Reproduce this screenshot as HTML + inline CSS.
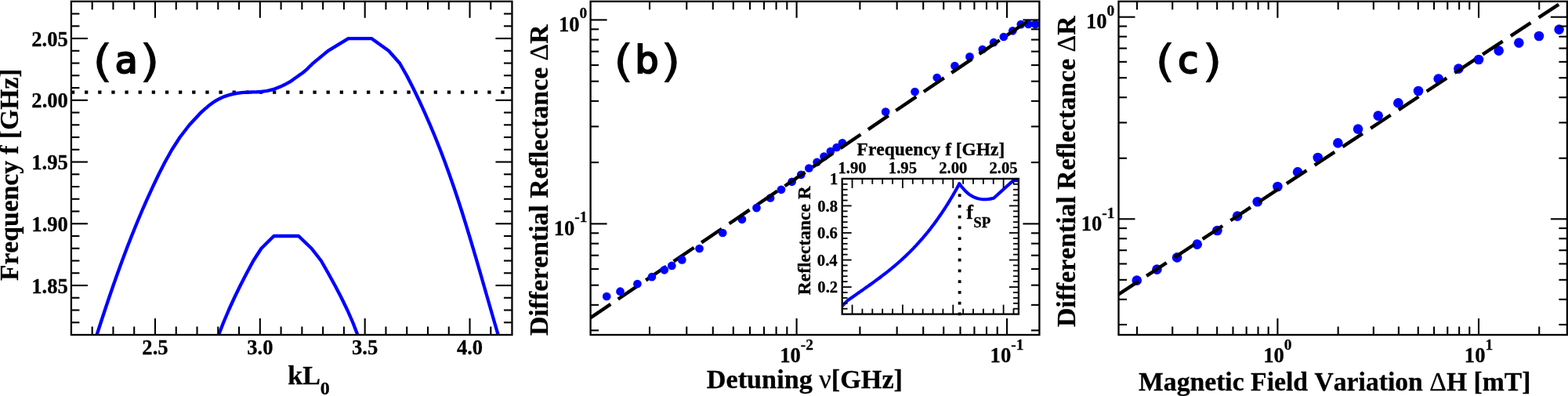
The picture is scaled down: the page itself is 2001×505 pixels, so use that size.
<!DOCTYPE html>
<html lang="en"><head><meta charset="utf-8"><title>Figure</title>
<style>
html,body{margin:0;padding:0;background:#fff;}
body{width:2001px;height:505px;overflow:hidden;}
svg{display:block;}
text{font-kerning:none;}
</style></head><body>
<svg width="2001" height="505" viewBox="0 0 2001 505">
<rect width="2001" height="505" fill="#fff"/>
<g id="panelA">
<clipPath id="clipA"><rect x="90.9" y="1.8" width="562.55" height="425.20"/></clipPath>
<line x1="90.90" y1="117.60" x2="653.45" y2="117.60" stroke="#000" stroke-width="4.3" stroke-dasharray="4.3 12.84"/>
<polyline points="118.59,442.75 123.60,427.00 128.68,411.25 133.86,395.50 139.14,379.76 144.56,364.01 150.13,348.26 155.87,332.51 161.80,316.76 167.94,301.02 174.31,285.27 180.92,269.52 187.80,253.77 194.99,238.02 202.57,222.28 210.63,206.53 219.44,190.78 229.61,175.03 241.74,159.28 256.41,143.54 257.93,142.16 259.45,140.80 260.98,139.44 262.52,138.09 264.07,136.76 265.64,135.46 267.23,134.18 268.84,132.94 270.48,131.73 272.15,130.57 273.85,129.45 275.59,128.38 277.36,127.36 279.15,126.39 280.98,125.48 282.84,124.62 284.71,123.82 286.62,123.08 288.54,122.39 290.48,121.75 292.44,121.17 294.41,120.63 296.39,120.14 298.39,119.70 300.39,119.30 302.40,118.95 304.42,118.64 306.44,118.37 308.47,118.14 310.50,117.96 312.53,117.81 314.57,117.69 316.60,117.60 318.64,117.53 320.68,117.49 322.72,117.45 324.76,117.40 326.80,117.35 328.83,117.26 330.87,117.14 332.90,116.97 334.93,116.76 336.95,116.49 338.97,116.18 340.98,115.82 342.98,115.41 344.97,114.94 346.94,114.42 348.90,113.85 350.84,113.22 352.75,112.53 354.66,111.80 356.54,111.02 358.42,110.21 360.28,109.37 362.13,108.51 363.97,107.62 365.79,106.70 367.59,105.73 369.35,104.70 371.07,103.62 372.75,102.48 374.42,101.30 376.07,100.10 377.71,98.89 379.37,97.69 381.04,96.51 382.72,95.34 384.39,94.17 386.04,92.98 387.67,91.75 389.25,90.47 390.78,89.13 392.26,87.73 393.71,86.29 395.15,84.85 396.60,83.41 398.05,81.97 399.50,80.54 418.60,64.80 444.50,49.05 474.00,49.05 496.00,64.80 510.00,80.54 519.01,96.29 527.07,112.04 534.71,127.79 541.98,143.54 548.88,159.28 555.46,175.03 561.72,190.78 567.71,206.53 573.43,222.28 578.93,238.02 584.22,253.77 589.33,269.52 594.27,285.27 599.09,301.02 603.79,316.76 608.41,332.51 612.97,348.26 617.49,364.01 622.01,379.76 626.53,395.50 631.09,411.25 635.71,427.00 640.42,442.75" fill="none" stroke="#0000ff" stroke-width="4.3" stroke-linejoin="round" clip-path="url(#clipA)"/>
<polyline points="273.53,442.75 279.06,427.00 285.18,411.25 291.86,395.50 299.05,379.76 306.72,364.01 314.84,348.26 323.35,332.51 333.50,316.76 349.50,301.02 381.00,301.02 397.50,316.76 409.79,332.51 418.78,348.26 427.45,364.01 435.67,379.76 443.32,395.50 450.26,411.25 456.38,427.00 461.54,442.75" fill="none" stroke="#0000ff" stroke-width="4.3" stroke-linejoin="round" clip-path="url(#clipA)"/>
<line x1="197.98" y1="427.00" x2="197.98" y2="406.00" stroke="#000" stroke-width="2.1" />
<line x1="197.98" y1="1.80" x2="197.98" y2="22.80" stroke="#000" stroke-width="2.1" />
<line x1="331.83" y1="427.00" x2="331.83" y2="406.00" stroke="#000" stroke-width="2.1" />
<line x1="331.83" y1="1.80" x2="331.83" y2="22.80" stroke="#000" stroke-width="2.1" />
<line x1="465.68" y1="427.00" x2="465.68" y2="406.00" stroke="#000" stroke-width="2.1" />
<line x1="465.68" y1="1.80" x2="465.68" y2="22.80" stroke="#000" stroke-width="2.1" />
<line x1="599.53" y1="427.00" x2="599.53" y2="406.00" stroke="#000" stroke-width="2.1" />
<line x1="599.53" y1="1.80" x2="599.53" y2="22.80" stroke="#000" stroke-width="2.1" />
<line x1="117.67" y1="427.00" x2="117.67" y2="416.50" stroke="#000" stroke-width="2.1" />
<line x1="117.67" y1="1.80" x2="117.67" y2="12.30" stroke="#000" stroke-width="2.1" />
<line x1="144.44" y1="427.00" x2="144.44" y2="416.50" stroke="#000" stroke-width="2.1" />
<line x1="144.44" y1="1.80" x2="144.44" y2="12.30" stroke="#000" stroke-width="2.1" />
<line x1="171.21" y1="427.00" x2="171.21" y2="416.50" stroke="#000" stroke-width="2.1" />
<line x1="171.21" y1="1.80" x2="171.21" y2="12.30" stroke="#000" stroke-width="2.1" />
<line x1="224.75" y1="427.00" x2="224.75" y2="416.50" stroke="#000" stroke-width="2.1" />
<line x1="224.75" y1="1.80" x2="224.75" y2="12.30" stroke="#000" stroke-width="2.1" />
<line x1="251.52" y1="427.00" x2="251.52" y2="416.50" stroke="#000" stroke-width="2.1" />
<line x1="251.52" y1="1.80" x2="251.52" y2="12.30" stroke="#000" stroke-width="2.1" />
<line x1="278.29" y1="427.00" x2="278.29" y2="416.50" stroke="#000" stroke-width="2.1" />
<line x1="278.29" y1="1.80" x2="278.29" y2="12.30" stroke="#000" stroke-width="2.1" />
<line x1="305.06" y1="427.00" x2="305.06" y2="416.50" stroke="#000" stroke-width="2.1" />
<line x1="305.06" y1="1.80" x2="305.06" y2="12.30" stroke="#000" stroke-width="2.1" />
<line x1="358.60" y1="427.00" x2="358.60" y2="416.50" stroke="#000" stroke-width="2.1" />
<line x1="358.60" y1="1.80" x2="358.60" y2="12.30" stroke="#000" stroke-width="2.1" />
<line x1="385.37" y1="427.00" x2="385.37" y2="416.50" stroke="#000" stroke-width="2.1" />
<line x1="385.37" y1="1.80" x2="385.37" y2="12.30" stroke="#000" stroke-width="2.1" />
<line x1="412.14" y1="427.00" x2="412.14" y2="416.50" stroke="#000" stroke-width="2.1" />
<line x1="412.14" y1="1.80" x2="412.14" y2="12.30" stroke="#000" stroke-width="2.1" />
<line x1="438.91" y1="427.00" x2="438.91" y2="416.50" stroke="#000" stroke-width="2.1" />
<line x1="438.91" y1="1.80" x2="438.91" y2="12.30" stroke="#000" stroke-width="2.1" />
<line x1="492.45" y1="427.00" x2="492.45" y2="416.50" stroke="#000" stroke-width="2.1" />
<line x1="492.45" y1="1.80" x2="492.45" y2="12.30" stroke="#000" stroke-width="2.1" />
<line x1="519.22" y1="427.00" x2="519.22" y2="416.50" stroke="#000" stroke-width="2.1" />
<line x1="519.22" y1="1.80" x2="519.22" y2="12.30" stroke="#000" stroke-width="2.1" />
<line x1="545.99" y1="427.00" x2="545.99" y2="416.50" stroke="#000" stroke-width="2.1" />
<line x1="545.99" y1="1.80" x2="545.99" y2="12.30" stroke="#000" stroke-width="2.1" />
<line x1="572.76" y1="427.00" x2="572.76" y2="416.50" stroke="#000" stroke-width="2.1" />
<line x1="572.76" y1="1.80" x2="572.76" y2="12.30" stroke="#000" stroke-width="2.1" />
<line x1="626.30" y1="427.00" x2="626.30" y2="416.50" stroke="#000" stroke-width="2.1" />
<line x1="626.30" y1="1.80" x2="626.30" y2="12.30" stroke="#000" stroke-width="2.1" />
<line x1="90.90" y1="364.01" x2="111.90" y2="364.01" stroke="#000" stroke-width="2.1" />
<line x1="653.45" y1="364.01" x2="632.45" y2="364.01" stroke="#000" stroke-width="2.1" />
<line x1="90.90" y1="285.27" x2="111.90" y2="285.27" stroke="#000" stroke-width="2.1" />
<line x1="653.45" y1="285.27" x2="632.45" y2="285.27" stroke="#000" stroke-width="2.1" />
<line x1="90.90" y1="206.53" x2="111.90" y2="206.53" stroke="#000" stroke-width="2.1" />
<line x1="653.45" y1="206.53" x2="632.45" y2="206.53" stroke="#000" stroke-width="2.1" />
<line x1="90.90" y1="127.79" x2="111.90" y2="127.79" stroke="#000" stroke-width="2.1" />
<line x1="653.45" y1="127.79" x2="632.45" y2="127.79" stroke="#000" stroke-width="2.1" />
<line x1="90.90" y1="49.05" x2="111.90" y2="49.05" stroke="#000" stroke-width="2.1" />
<line x1="653.45" y1="49.05" x2="632.45" y2="49.05" stroke="#000" stroke-width="2.1" />
<line x1="90.90" y1="411.25" x2="101.40" y2="411.25" stroke="#000" stroke-width="2.1" />
<line x1="653.45" y1="411.25" x2="642.95" y2="411.25" stroke="#000" stroke-width="2.1" />
<line x1="90.90" y1="395.50" x2="101.40" y2="395.50" stroke="#000" stroke-width="2.1" />
<line x1="653.45" y1="395.50" x2="642.95" y2="395.50" stroke="#000" stroke-width="2.1" />
<line x1="90.90" y1="379.76" x2="101.40" y2="379.76" stroke="#000" stroke-width="2.1" />
<line x1="653.45" y1="379.76" x2="642.95" y2="379.76" stroke="#000" stroke-width="2.1" />
<line x1="90.90" y1="348.26" x2="101.40" y2="348.26" stroke="#000" stroke-width="2.1" />
<line x1="653.45" y1="348.26" x2="642.95" y2="348.26" stroke="#000" stroke-width="2.1" />
<line x1="90.90" y1="332.51" x2="101.40" y2="332.51" stroke="#000" stroke-width="2.1" />
<line x1="653.45" y1="332.51" x2="642.95" y2="332.51" stroke="#000" stroke-width="2.1" />
<line x1="90.90" y1="316.76" x2="101.40" y2="316.76" stroke="#000" stroke-width="2.1" />
<line x1="653.45" y1="316.76" x2="642.95" y2="316.76" stroke="#000" stroke-width="2.1" />
<line x1="90.90" y1="301.02" x2="101.40" y2="301.02" stroke="#000" stroke-width="2.1" />
<line x1="653.45" y1="301.02" x2="642.95" y2="301.02" stroke="#000" stroke-width="2.1" />
<line x1="90.90" y1="269.52" x2="101.40" y2="269.52" stroke="#000" stroke-width="2.1" />
<line x1="653.45" y1="269.52" x2="642.95" y2="269.52" stroke="#000" stroke-width="2.1" />
<line x1="90.90" y1="253.77" x2="101.40" y2="253.77" stroke="#000" stroke-width="2.1" />
<line x1="653.45" y1="253.77" x2="642.95" y2="253.77" stroke="#000" stroke-width="2.1" />
<line x1="90.90" y1="238.02" x2="101.40" y2="238.02" stroke="#000" stroke-width="2.1" />
<line x1="653.45" y1="238.02" x2="642.95" y2="238.02" stroke="#000" stroke-width="2.1" />
<line x1="90.90" y1="222.28" x2="101.40" y2="222.28" stroke="#000" stroke-width="2.1" />
<line x1="653.45" y1="222.28" x2="642.95" y2="222.28" stroke="#000" stroke-width="2.1" />
<line x1="90.90" y1="190.78" x2="101.40" y2="190.78" stroke="#000" stroke-width="2.1" />
<line x1="653.45" y1="190.78" x2="642.95" y2="190.78" stroke="#000" stroke-width="2.1" />
<line x1="90.90" y1="175.03" x2="101.40" y2="175.03" stroke="#000" stroke-width="2.1" />
<line x1="653.45" y1="175.03" x2="642.95" y2="175.03" stroke="#000" stroke-width="2.1" />
<line x1="90.90" y1="159.28" x2="101.40" y2="159.28" stroke="#000" stroke-width="2.1" />
<line x1="653.45" y1="159.28" x2="642.95" y2="159.28" stroke="#000" stroke-width="2.1" />
<line x1="90.90" y1="143.54" x2="101.40" y2="143.54" stroke="#000" stroke-width="2.1" />
<line x1="653.45" y1="143.54" x2="642.95" y2="143.54" stroke="#000" stroke-width="2.1" />
<line x1="90.90" y1="112.04" x2="101.40" y2="112.04" stroke="#000" stroke-width="2.1" />
<line x1="653.45" y1="112.04" x2="642.95" y2="112.04" stroke="#000" stroke-width="2.1" />
<line x1="90.90" y1="96.29" x2="101.40" y2="96.29" stroke="#000" stroke-width="2.1" />
<line x1="653.45" y1="96.29" x2="642.95" y2="96.29" stroke="#000" stroke-width="2.1" />
<line x1="90.90" y1="80.54" x2="101.40" y2="80.54" stroke="#000" stroke-width="2.1" />
<line x1="653.45" y1="80.54" x2="642.95" y2="80.54" stroke="#000" stroke-width="2.1" />
<line x1="90.90" y1="64.80" x2="101.40" y2="64.80" stroke="#000" stroke-width="2.1" />
<line x1="653.45" y1="64.80" x2="642.95" y2="64.80" stroke="#000" stroke-width="2.1" />
<line x1="90.90" y1="33.30" x2="101.40" y2="33.30" stroke="#000" stroke-width="2.1" />
<line x1="653.45" y1="33.30" x2="642.95" y2="33.30" stroke="#000" stroke-width="2.1" />
<line x1="90.90" y1="17.55" x2="101.40" y2="17.55" stroke="#000" stroke-width="2.1" />
<line x1="653.45" y1="17.55" x2="642.95" y2="17.55" stroke="#000" stroke-width="2.1" />
<rect x="90.90" y="1.80" width="562.55" height="425.20" fill="none" stroke="#000" stroke-width="2.3"/>
<text x="181.34" y="451.90" font-family="'Liberation Serif', serif" font-weight="bold" font-size="27.3px" textLength="33.27" lengthAdjust="spacingAndGlyphs" stroke="#000" stroke-width="0.3" >2.5</text>
<text x="315.19" y="451.90" font-family="'Liberation Serif', serif" font-weight="bold" font-size="27.3px" textLength="33.27" lengthAdjust="spacingAndGlyphs" stroke="#000" stroke-width="0.3" >3.0</text>
<text x="449.04" y="451.90" font-family="'Liberation Serif', serif" font-weight="bold" font-size="27.3px" textLength="33.27" lengthAdjust="spacingAndGlyphs" stroke="#000" stroke-width="0.3" >3.5</text>
<text x="582.89" y="451.90" font-family="'Liberation Serif', serif" font-weight="bold" font-size="27.3px" textLength="33.27" lengthAdjust="spacingAndGlyphs" stroke="#000" stroke-width="0.3" >4.0</text>
<text x="40.29" y="373.61" font-family="'Liberation Serif', serif" font-weight="bold" font-size="27.3px" textLength="46.58" lengthAdjust="spacingAndGlyphs" stroke="#000" stroke-width="0.3" >1.85</text>
<text x="40.33" y="294.87" font-family="'Liberation Serif', serif" font-weight="bold" font-size="27.3px" textLength="46.58" lengthAdjust="spacingAndGlyphs" stroke="#000" stroke-width="0.3" >1.90</text>
<text x="40.29" y="216.13" font-family="'Liberation Serif', serif" font-weight="bold" font-size="27.3px" textLength="46.58" lengthAdjust="spacingAndGlyphs" stroke="#000" stroke-width="0.3" >1.95</text>
<text x="40.33" y="137.39" font-family="'Liberation Serif', serif" font-weight="bold" font-size="27.3px" textLength="46.58" lengthAdjust="spacingAndGlyphs" stroke="#000" stroke-width="0.3" >2.00</text>
<text x="40.29" y="58.65" font-family="'Liberation Serif', serif" font-weight="bold" font-size="27.3px" textLength="46.58" lengthAdjust="spacingAndGlyphs" stroke="#000" stroke-width="0.3" >2.05</text>
<text transform="translate(22.70 358.07) rotate(-90)" x="0" y="0" font-family="'Liberation Serif', serif" font-weight="bold" font-size="34.0px" textLength="270.57" lengthAdjust="spacingAndGlyphs" stroke="#000" stroke-width="0.3">Frequency f [GHz]</text>
<text x="367.25" y="490" font-family="'Liberation Serif', serif" font-weight="bold" font-size="34.0px" stroke="#000" stroke-width="0.3">kL<tspan font-size="24px" dy="13.2">0</tspan></text>
<text font-family="'DejaVu Sans', 'Liberation Sans', sans-serif" fill="#000" font-size="57.7px"><tspan x="117.08" y="97.45" textLength="28.13" lengthAdjust="spacingAndGlyphs">(</tspan><tspan x="146.66" y="92.84" font-size="47.3px" stroke="#000" stroke-width="2.2" stroke-linejoin="miter">a</tspan><tspan x="176.73" y="97.45" textLength="28.13" lengthAdjust="spacingAndGlyphs">)</tspan></text>
</g>
<g id="panelB">
<clipPath id="clipB"><rect x="753.6" y="1.8" width="572.80" height="425.20"/></clipPath>
<g fill="#0000ff" clip-path="url(#clipB)">
<circle cx="946.91" cy="279.80" r="5.35"/>
<circle cx="983.07" cy="252.50" r="5.35"/>
<circle cx="1010.62" cy="231.80" r="5.35"/>
<circle cx="1022.29" cy="222.80" r="5.35"/>
<circle cx="1042.61" cy="206.80" r="5.35"/>
<circle cx="1051.58" cy="199.60" r="5.35"/>
<circle cx="1059.91" cy="193.00" r="5.35"/>
<circle cx="1067.69" cy="188.00" r="5.35"/>
<circle cx="1074.97" cy="182.40" r="5.35"/>
<circle cx="1130.20" cy="142.60" r="5.35"/>
<circle cx="1167.52" cy="117.00" r="5.35"/>
<circle cx="1195.74" cy="99.00" r="5.35"/>
<circle cx="1218.45" cy="84.00" r="5.35"/>
<circle cx="1237.45" cy="72.40" r="5.35"/>
<circle cx="1253.77" cy="63.00" r="5.35"/>
<circle cx="1268.10" cy="54.20" r="5.35"/>
<circle cx="1292.34" cy="39.30" r="5.35"/>
<circle cx="1302.80" cy="31.10" r="5.35"/>
<circle cx="1312.40" cy="30.90" r="5.35"/>
<circle cx="1321.27" cy="30.90" r="5.35"/>
</g>
<line x1="753.30" y1="405.50" x2="1313.00" y2="25.97" stroke="#000" stroke-width="4.4" stroke-dasharray="31.4 11.44" clip-path="url(#clipB)"/>
<g fill="#0000ff" clip-path="url(#clipB)">
<circle cx="774.21" cy="378.00" r="5.35"/>
<circle cx="791.51" cy="371.70" r="5.35"/>
<circle cx="813.43" cy="362.00" r="5.35"/>
<circle cx="831.87" cy="353.20" r="5.35"/>
<circle cx="847.79" cy="344.30" r="5.35"/>
<circle cx="857.32" cy="338.90" r="5.35"/>
<circle cx="870.28" cy="331.40" r="5.35"/>
<circle cx="892.55" cy="317.00" r="5.35"/>
<circle cx="922.22" cy="297.00" r="5.35"/>
<circle cx="965.49" cy="265.10" r="5.35"/>
<circle cx="996.97" cy="241.80" r="5.35"/>
<circle cx="1032.38" cy="214.50" r="5.35"/>
<circle cx="1280.85" cy="47.00" r="5.35"/>
</g>
<line x1="1016.60" y1="427.00" x2="1016.60" y2="406.00" stroke="#000" stroke-width="2.1" />
<line x1="1016.60" y1="1.80" x2="1016.60" y2="22.80" stroke="#000" stroke-width="2.1" />
<line x1="1285.00" y1="427.00" x2="1285.00" y2="406.00" stroke="#000" stroke-width="2.1" />
<line x1="1285.00" y1="1.80" x2="1285.00" y2="22.80" stroke="#000" stroke-width="2.1" />
<line x1="829.00" y1="427.00" x2="829.00" y2="416.50" stroke="#000" stroke-width="2.1" />
<line x1="829.00" y1="1.80" x2="829.00" y2="12.30" stroke="#000" stroke-width="2.1" />
<line x1="876.26" y1="427.00" x2="876.26" y2="416.50" stroke="#000" stroke-width="2.1" />
<line x1="876.26" y1="1.80" x2="876.26" y2="12.30" stroke="#000" stroke-width="2.1" />
<line x1="909.79" y1="427.00" x2="909.79" y2="416.50" stroke="#000" stroke-width="2.1" />
<line x1="909.79" y1="1.80" x2="909.79" y2="12.30" stroke="#000" stroke-width="2.1" />
<line x1="935.80" y1="427.00" x2="935.80" y2="416.50" stroke="#000" stroke-width="2.1" />
<line x1="935.80" y1="1.80" x2="935.80" y2="12.30" stroke="#000" stroke-width="2.1" />
<line x1="957.06" y1="427.00" x2="957.06" y2="416.50" stroke="#000" stroke-width="2.1" />
<line x1="957.06" y1="1.80" x2="957.06" y2="12.30" stroke="#000" stroke-width="2.1" />
<line x1="975.02" y1="427.00" x2="975.02" y2="416.50" stroke="#000" stroke-width="2.1" />
<line x1="975.02" y1="1.80" x2="975.02" y2="12.30" stroke="#000" stroke-width="2.1" />
<line x1="990.59" y1="427.00" x2="990.59" y2="416.50" stroke="#000" stroke-width="2.1" />
<line x1="990.59" y1="1.80" x2="990.59" y2="12.30" stroke="#000" stroke-width="2.1" />
<line x1="1004.32" y1="427.00" x2="1004.32" y2="416.50" stroke="#000" stroke-width="2.1" />
<line x1="1004.32" y1="1.80" x2="1004.32" y2="12.30" stroke="#000" stroke-width="2.1" />
<line x1="1097.40" y1="427.00" x2="1097.40" y2="416.50" stroke="#000" stroke-width="2.1" />
<line x1="1097.40" y1="1.80" x2="1097.40" y2="12.30" stroke="#000" stroke-width="2.1" />
<line x1="1144.66" y1="427.00" x2="1144.66" y2="416.50" stroke="#000" stroke-width="2.1" />
<line x1="1144.66" y1="1.80" x2="1144.66" y2="12.30" stroke="#000" stroke-width="2.1" />
<line x1="1178.19" y1="427.00" x2="1178.19" y2="416.50" stroke="#000" stroke-width="2.1" />
<line x1="1178.19" y1="1.80" x2="1178.19" y2="12.30" stroke="#000" stroke-width="2.1" />
<line x1="1204.20" y1="427.00" x2="1204.20" y2="416.50" stroke="#000" stroke-width="2.1" />
<line x1="1204.20" y1="1.80" x2="1204.20" y2="12.30" stroke="#000" stroke-width="2.1" />
<line x1="1225.46" y1="427.00" x2="1225.46" y2="416.50" stroke="#000" stroke-width="2.1" />
<line x1="1225.46" y1="1.80" x2="1225.46" y2="12.30" stroke="#000" stroke-width="2.1" />
<line x1="1243.42" y1="427.00" x2="1243.42" y2="416.50" stroke="#000" stroke-width="2.1" />
<line x1="1243.42" y1="1.80" x2="1243.42" y2="12.30" stroke="#000" stroke-width="2.1" />
<line x1="1258.99" y1="427.00" x2="1258.99" y2="416.50" stroke="#000" stroke-width="2.1" />
<line x1="1258.99" y1="1.80" x2="1258.99" y2="12.30" stroke="#000" stroke-width="2.1" />
<line x1="1272.72" y1="427.00" x2="1272.72" y2="416.50" stroke="#000" stroke-width="2.1" />
<line x1="1272.72" y1="1.80" x2="1272.72" y2="12.30" stroke="#000" stroke-width="2.1" />
<line x1="753.60" y1="285.40" x2="774.60" y2="285.40" stroke="#000" stroke-width="2.1" />
<line x1="1326.40" y1="285.40" x2="1305.40" y2="285.40" stroke="#000" stroke-width="2.1" />
<line x1="753.60" y1="25.40" x2="774.60" y2="25.40" stroke="#000" stroke-width="2.1" />
<line x1="1326.40" y1="25.40" x2="1305.40" y2="25.40" stroke="#000" stroke-width="2.1" />
<line x1="753.60" y1="421.35" x2="764.10" y2="421.35" stroke="#000" stroke-width="2.1" />
<line x1="1326.40" y1="421.35" x2="1315.90" y2="421.35" stroke="#000" stroke-width="2.1" />
<line x1="753.60" y1="388.86" x2="764.10" y2="388.86" stroke="#000" stroke-width="2.1" />
<line x1="1326.40" y1="388.86" x2="1315.90" y2="388.86" stroke="#000" stroke-width="2.1" />
<line x1="753.60" y1="363.67" x2="764.10" y2="363.67" stroke="#000" stroke-width="2.1" />
<line x1="1326.40" y1="363.67" x2="1315.90" y2="363.67" stroke="#000" stroke-width="2.1" />
<line x1="753.60" y1="343.08" x2="764.10" y2="343.08" stroke="#000" stroke-width="2.1" />
<line x1="1326.40" y1="343.08" x2="1315.90" y2="343.08" stroke="#000" stroke-width="2.1" />
<line x1="753.60" y1="325.67" x2="764.10" y2="325.67" stroke="#000" stroke-width="2.1" />
<line x1="1326.40" y1="325.67" x2="1315.90" y2="325.67" stroke="#000" stroke-width="2.1" />
<line x1="753.60" y1="310.60" x2="764.10" y2="310.60" stroke="#000" stroke-width="2.1" />
<line x1="1326.40" y1="310.60" x2="1315.90" y2="310.60" stroke="#000" stroke-width="2.1" />
<line x1="753.60" y1="297.30" x2="764.10" y2="297.30" stroke="#000" stroke-width="2.1" />
<line x1="1326.40" y1="297.30" x2="1315.90" y2="297.30" stroke="#000" stroke-width="2.1" />
<line x1="753.60" y1="207.13" x2="764.10" y2="207.13" stroke="#000" stroke-width="2.1" />
<line x1="1326.40" y1="207.13" x2="1315.90" y2="207.13" stroke="#000" stroke-width="2.1" />
<line x1="753.60" y1="161.35" x2="764.10" y2="161.35" stroke="#000" stroke-width="2.1" />
<line x1="1326.40" y1="161.35" x2="1315.90" y2="161.35" stroke="#000" stroke-width="2.1" />
<line x1="753.60" y1="128.86" x2="764.10" y2="128.86" stroke="#000" stroke-width="2.1" />
<line x1="1326.40" y1="128.86" x2="1315.90" y2="128.86" stroke="#000" stroke-width="2.1" />
<line x1="753.60" y1="103.67" x2="764.10" y2="103.67" stroke="#000" stroke-width="2.1" />
<line x1="1326.40" y1="103.67" x2="1315.90" y2="103.67" stroke="#000" stroke-width="2.1" />
<line x1="753.60" y1="83.08" x2="764.10" y2="83.08" stroke="#000" stroke-width="2.1" />
<line x1="1326.40" y1="83.08" x2="1315.90" y2="83.08" stroke="#000" stroke-width="2.1" />
<line x1="753.60" y1="65.67" x2="764.10" y2="65.67" stroke="#000" stroke-width="2.1" />
<line x1="1326.40" y1="65.67" x2="1315.90" y2="65.67" stroke="#000" stroke-width="2.1" />
<line x1="753.60" y1="50.60" x2="764.10" y2="50.60" stroke="#000" stroke-width="2.1" />
<line x1="1326.40" y1="50.60" x2="1315.90" y2="50.60" stroke="#000" stroke-width="2.1" />
<line x1="753.60" y1="37.30" x2="764.10" y2="37.30" stroke="#000" stroke-width="2.1" />
<line x1="1326.40" y1="37.30" x2="1315.90" y2="37.30" stroke="#000" stroke-width="2.1" />
<rect x="753.60" y="1.80" width="572.80" height="425.20" fill="none" stroke="#000" stroke-width="2.3"/>
<text x="995.21" y="461.80" font-family="'Liberation Serif', serif" font-weight="bold" font-size="27.3px" stroke="#000" stroke-width="0.3"><tspan textLength="26.62" lengthAdjust="spacingAndGlyphs">10</tspan><tspan font-size="19.4px" dy="-16.2">-2</tspan></text>
<text x="1263.61" y="461.80" font-family="'Liberation Serif', serif" font-weight="bold" font-size="27.3px" stroke="#000" stroke-width="0.3"><tspan textLength="26.62" lengthAdjust="spacingAndGlyphs">10</tspan><tspan font-size="19.4px" dy="-16.2">-1</tspan></text>
<text x="712.92" y="39.60" font-family="'Liberation Serif', serif" font-weight="bold" font-size="27.3px" stroke="#000" stroke-width="0.3"><tspan textLength="26.62" lengthAdjust="spacingAndGlyphs">10</tspan><tspan font-size="19.4px" dy="-16.2">0</tspan></text>
<text x="706.73" y="299.60" font-family="'Liberation Serif', serif" font-weight="bold" font-size="27.3px" stroke="#000" stroke-width="0.3"><tspan textLength="26.62" lengthAdjust="spacingAndGlyphs">10</tspan><tspan font-size="19.4px" dy="-16.2">-1</tspan></text>
<text transform="translate(699.00 428.09) rotate(-90)" x="0" y="0" font-family="'Liberation Serif', serif" font-weight="bold" font-size="34.0px" textLength="396.80" lengthAdjust="spacingAndGlyphs" stroke="#000" stroke-width="0.3">Differential Reflectance <tspan font-weight="normal">Δ</tspan>R</text>
<text x="901.80" y="494.90" font-family="'Liberation Serif', serif" font-weight="bold" font-size="34.0px" textLength="250.24" lengthAdjust="spacingAndGlyphs" stroke="#000" stroke-width="0.3">Detuning <tspan font-weight="normal">ν</tspan>[GHz]</text>
<text font-family="'DejaVu Sans', 'Liberation Sans', sans-serif" fill="#000" font-size="57.7px"><tspan x="781.67" y="97.45" textLength="28.13" lengthAdjust="spacingAndGlyphs">(</tspan><tspan x="810.50" y="92.84" font-size="47.3px" stroke="#000" stroke-width="2.2" stroke-linejoin="miter">b</tspan><tspan x="841.65" y="97.45" textLength="28.13" lengthAdjust="spacingAndGlyphs">)</tspan></text>
<rect x="1074.7" y="227.9" width="225.20" height="172.70" fill="#fff"/>
<clipPath id="clipI"><rect x="1074.7" y="227.9" width="225.20" height="172.70"/></clipPath>
<line x1="1224.60" y1="402.30" x2="1224.60" y2="227.90" stroke="#000" stroke-width="3.8" stroke-dasharray="3.8 9.95"/>
<polyline points="1072.60,392.60 1074.60,390.40 1081.50,383.36 1083.50,381.94 1085.50,380.53 1087.50,379.12 1089.50,377.72 1091.50,376.32 1093.50,374.92 1095.50,373.53 1097.50,372.13 1099.50,370.73 1101.50,369.33 1103.50,367.93 1105.50,366.53 1107.50,365.11 1109.50,363.70 1111.50,362.27 1113.50,360.84 1115.50,359.39 1117.50,357.94 1119.50,356.47 1121.50,354.99 1123.50,353.49 1125.50,351.98 1127.50,350.45 1129.50,348.91 1131.50,347.34 1133.50,345.76 1135.50,344.16 1137.50,342.53 1139.50,340.88 1141.50,339.21 1143.50,337.51 1145.50,335.78 1147.50,334.02 1149.50,332.24 1151.50,330.43 1153.50,328.58 1155.50,326.71 1157.50,324.80 1159.50,322.86 1161.50,320.88 1163.50,318.86 1165.50,316.81 1167.50,314.71 1169.50,312.58 1171.50,310.41 1173.50,308.19 1175.50,305.93 1177.50,303.63 1179.50,301.28 1181.50,298.88 1183.50,296.44 1185.50,293.95 1187.50,291.41 1189.50,288.81 1191.50,286.17 1193.50,283.47 1195.50,280.72 1197.50,277.91 1199.50,275.04 1201.50,272.12 1203.50,269.13 1205.50,266.09 1207.50,262.99 1209.50,259.82 1211.50,256.59 1213.50,253.30 1215.50,249.94 1217.50,246.52 1219.50,243.02 1221.50,239.46 1223.50,235.83 1224.20,234.20 1225.14,235.44 1226.09,236.67 1227.04,237.89 1228.02,239.10 1229.01,240.29 1230.03,241.47 1231.09,242.61 1232.18,243.73 1233.30,244.82 1234.47,245.86 1235.67,246.86 1236.90,247.81 1238.18,248.71 1239.49,249.55 1240.84,250.32 1242.23,251.03 1243.65,251.67 1245.10,252.24 1246.58,252.74 1248.08,253.18 1249.60,253.54 1251.13,253.84 1252.67,254.07 1254.22,254.22 1255.77,254.30 1257.31,254.29 1258.86,254.21 1260.40,254.07 1261.94,253.88 1263.48,253.65 1265.02,253.38 1266.56,253.10 1268.10,252.80 1293.00,230.20 1301.00,230.20" fill="none" stroke="#0000ff" stroke-width="4.1" stroke-linejoin="round" clip-path="url(#clipI)"/>
<line x1="1087.57" y1="400.60" x2="1087.57" y2="388.60" stroke="#000" stroke-width="1.8" />
<line x1="1087.57" y1="227.90" x2="1087.57" y2="239.90" stroke="#000" stroke-width="1.8" />
<line x1="1151.91" y1="400.60" x2="1151.91" y2="388.60" stroke="#000" stroke-width="1.8" />
<line x1="1151.91" y1="227.90" x2="1151.91" y2="239.90" stroke="#000" stroke-width="1.8" />
<line x1="1216.25" y1="400.60" x2="1216.25" y2="388.60" stroke="#000" stroke-width="1.8" />
<line x1="1216.25" y1="227.90" x2="1216.25" y2="239.90" stroke="#000" stroke-width="1.8" />
<line x1="1280.60" y1="400.60" x2="1280.60" y2="388.60" stroke="#000" stroke-width="1.8" />
<line x1="1280.60" y1="227.90" x2="1280.60" y2="239.90" stroke="#000" stroke-width="1.8" />
<line x1="1100.44" y1="400.60" x2="1100.44" y2="393.70" stroke="#000" stroke-width="1.8" />
<line x1="1100.44" y1="227.90" x2="1100.44" y2="234.80" stroke="#000" stroke-width="1.8" />
<line x1="1113.31" y1="400.60" x2="1113.31" y2="393.70" stroke="#000" stroke-width="1.8" />
<line x1="1113.31" y1="227.90" x2="1113.31" y2="234.80" stroke="#000" stroke-width="1.8" />
<line x1="1126.17" y1="400.60" x2="1126.17" y2="393.70" stroke="#000" stroke-width="1.8" />
<line x1="1126.17" y1="227.90" x2="1126.17" y2="234.80" stroke="#000" stroke-width="1.8" />
<line x1="1139.04" y1="400.60" x2="1139.04" y2="393.70" stroke="#000" stroke-width="1.8" />
<line x1="1139.04" y1="227.90" x2="1139.04" y2="234.80" stroke="#000" stroke-width="1.8" />
<line x1="1164.78" y1="400.60" x2="1164.78" y2="393.70" stroke="#000" stroke-width="1.8" />
<line x1="1164.78" y1="227.90" x2="1164.78" y2="234.80" stroke="#000" stroke-width="1.8" />
<line x1="1177.65" y1="400.60" x2="1177.65" y2="393.70" stroke="#000" stroke-width="1.8" />
<line x1="1177.65" y1="227.90" x2="1177.65" y2="234.80" stroke="#000" stroke-width="1.8" />
<line x1="1190.52" y1="400.60" x2="1190.52" y2="393.70" stroke="#000" stroke-width="1.8" />
<line x1="1190.52" y1="227.90" x2="1190.52" y2="234.80" stroke="#000" stroke-width="1.8" />
<line x1="1203.39" y1="400.60" x2="1203.39" y2="393.70" stroke="#000" stroke-width="1.8" />
<line x1="1203.39" y1="227.90" x2="1203.39" y2="234.80" stroke="#000" stroke-width="1.8" />
<line x1="1229.12" y1="400.60" x2="1229.12" y2="393.70" stroke="#000" stroke-width="1.8" />
<line x1="1229.12" y1="227.90" x2="1229.12" y2="234.80" stroke="#000" stroke-width="1.8" />
<line x1="1241.99" y1="400.60" x2="1241.99" y2="393.70" stroke="#000" stroke-width="1.8" />
<line x1="1241.99" y1="227.90" x2="1241.99" y2="234.80" stroke="#000" stroke-width="1.8" />
<line x1="1254.86" y1="400.60" x2="1254.86" y2="393.70" stroke="#000" stroke-width="1.8" />
<line x1="1254.86" y1="227.90" x2="1254.86" y2="234.80" stroke="#000" stroke-width="1.8" />
<line x1="1267.73" y1="400.60" x2="1267.73" y2="393.70" stroke="#000" stroke-width="1.8" />
<line x1="1267.73" y1="227.90" x2="1267.73" y2="234.80" stroke="#000" stroke-width="1.8" />
<line x1="1293.47" y1="400.60" x2="1293.47" y2="393.70" stroke="#000" stroke-width="1.8" />
<line x1="1293.47" y1="227.90" x2="1293.47" y2="234.80" stroke="#000" stroke-width="1.8" />
<line x1="1074.70" y1="366.06" x2="1086.70" y2="366.06" stroke="#000" stroke-width="1.8" />
<line x1="1299.90" y1="366.06" x2="1287.90" y2="366.06" stroke="#000" stroke-width="1.8" />
<line x1="1074.70" y1="331.52" x2="1086.70" y2="331.52" stroke="#000" stroke-width="1.8" />
<line x1="1299.90" y1="331.52" x2="1287.90" y2="331.52" stroke="#000" stroke-width="1.8" />
<line x1="1074.70" y1="296.98" x2="1086.70" y2="296.98" stroke="#000" stroke-width="1.8" />
<line x1="1299.90" y1="296.98" x2="1287.90" y2="296.98" stroke="#000" stroke-width="1.8" />
<line x1="1074.70" y1="262.44" x2="1086.70" y2="262.44" stroke="#000" stroke-width="1.8" />
<line x1="1299.90" y1="262.44" x2="1287.90" y2="262.44" stroke="#000" stroke-width="1.8" />
<line x1="1074.70" y1="393.69" x2="1081.60" y2="393.69" stroke="#000" stroke-width="1.8" />
<line x1="1299.90" y1="393.69" x2="1293.00" y2="393.69" stroke="#000" stroke-width="1.8" />
<line x1="1074.70" y1="386.78" x2="1081.60" y2="386.78" stroke="#000" stroke-width="1.8" />
<line x1="1299.90" y1="386.78" x2="1293.00" y2="386.78" stroke="#000" stroke-width="1.8" />
<line x1="1074.70" y1="379.88" x2="1081.60" y2="379.88" stroke="#000" stroke-width="1.8" />
<line x1="1299.90" y1="379.88" x2="1293.00" y2="379.88" stroke="#000" stroke-width="1.8" />
<line x1="1074.70" y1="372.97" x2="1081.60" y2="372.97" stroke="#000" stroke-width="1.8" />
<line x1="1299.90" y1="372.97" x2="1293.00" y2="372.97" stroke="#000" stroke-width="1.8" />
<line x1="1074.70" y1="359.15" x2="1081.60" y2="359.15" stroke="#000" stroke-width="1.8" />
<line x1="1299.90" y1="359.15" x2="1293.00" y2="359.15" stroke="#000" stroke-width="1.8" />
<line x1="1074.70" y1="352.24" x2="1081.60" y2="352.24" stroke="#000" stroke-width="1.8" />
<line x1="1299.90" y1="352.24" x2="1293.00" y2="352.24" stroke="#000" stroke-width="1.8" />
<line x1="1074.70" y1="345.34" x2="1081.60" y2="345.34" stroke="#000" stroke-width="1.8" />
<line x1="1299.90" y1="345.34" x2="1293.00" y2="345.34" stroke="#000" stroke-width="1.8" />
<line x1="1074.70" y1="338.43" x2="1081.60" y2="338.43" stroke="#000" stroke-width="1.8" />
<line x1="1299.90" y1="338.43" x2="1293.00" y2="338.43" stroke="#000" stroke-width="1.8" />
<line x1="1074.70" y1="324.61" x2="1081.60" y2="324.61" stroke="#000" stroke-width="1.8" />
<line x1="1299.90" y1="324.61" x2="1293.00" y2="324.61" stroke="#000" stroke-width="1.8" />
<line x1="1074.70" y1="317.70" x2="1081.60" y2="317.70" stroke="#000" stroke-width="1.8" />
<line x1="1299.90" y1="317.70" x2="1293.00" y2="317.70" stroke="#000" stroke-width="1.8" />
<line x1="1074.70" y1="310.80" x2="1081.60" y2="310.80" stroke="#000" stroke-width="1.8" />
<line x1="1299.90" y1="310.80" x2="1293.00" y2="310.80" stroke="#000" stroke-width="1.8" />
<line x1="1074.70" y1="303.89" x2="1081.60" y2="303.89" stroke="#000" stroke-width="1.8" />
<line x1="1299.90" y1="303.89" x2="1293.00" y2="303.89" stroke="#000" stroke-width="1.8" />
<line x1="1074.70" y1="290.07" x2="1081.60" y2="290.07" stroke="#000" stroke-width="1.8" />
<line x1="1299.90" y1="290.07" x2="1293.00" y2="290.07" stroke="#000" stroke-width="1.8" />
<line x1="1074.70" y1="283.16" x2="1081.60" y2="283.16" stroke="#000" stroke-width="1.8" />
<line x1="1299.90" y1="283.16" x2="1293.00" y2="283.16" stroke="#000" stroke-width="1.8" />
<line x1="1074.70" y1="276.26" x2="1081.60" y2="276.26" stroke="#000" stroke-width="1.8" />
<line x1="1299.90" y1="276.26" x2="1293.00" y2="276.26" stroke="#000" stroke-width="1.8" />
<line x1="1074.70" y1="269.35" x2="1081.60" y2="269.35" stroke="#000" stroke-width="1.8" />
<line x1="1299.90" y1="269.35" x2="1293.00" y2="269.35" stroke="#000" stroke-width="1.8" />
<line x1="1074.70" y1="255.53" x2="1081.60" y2="255.53" stroke="#000" stroke-width="1.8" />
<line x1="1299.90" y1="255.53" x2="1293.00" y2="255.53" stroke="#000" stroke-width="1.8" />
<line x1="1074.70" y1="248.62" x2="1081.60" y2="248.62" stroke="#000" stroke-width="1.8" />
<line x1="1299.90" y1="248.62" x2="1293.00" y2="248.62" stroke="#000" stroke-width="1.8" />
<line x1="1074.70" y1="241.72" x2="1081.60" y2="241.72" stroke="#000" stroke-width="1.8" />
<line x1="1299.90" y1="241.72" x2="1293.00" y2="241.72" stroke="#000" stroke-width="1.8" />
<line x1="1074.70" y1="234.81" x2="1081.60" y2="234.81" stroke="#000" stroke-width="1.8" />
<line x1="1299.90" y1="234.81" x2="1293.00" y2="234.81" stroke="#000" stroke-width="1.8" />
<rect x="1074.70" y="227.90" width="225.20" height="172.70" fill="none" stroke="#000" stroke-width="2.3"/>
<text x="1069.48" y="221.30" font-family="'Liberation Serif', serif" font-weight="bold" font-size="21.2px" textLength="36.17" lengthAdjust="spacingAndGlyphs" stroke="#000" stroke-width="0.3" >1.90</text>
<text x="1133.83" y="221.30" font-family="'Liberation Serif', serif" font-weight="bold" font-size="21.2px" textLength="36.17" lengthAdjust="spacingAndGlyphs" stroke="#000" stroke-width="0.3" >1.95</text>
<text x="1198.17" y="221.30" font-family="'Liberation Serif', serif" font-weight="bold" font-size="21.2px" textLength="36.17" lengthAdjust="spacingAndGlyphs" stroke="#000" stroke-width="0.3" >2.00</text>
<text x="1262.51" y="221.30" font-family="'Liberation Serif', serif" font-weight="bold" font-size="21.2px" textLength="36.17" lengthAdjust="spacingAndGlyphs" stroke="#000" stroke-width="0.3" >2.05</text>
<text x="1059.03" y="235.30" font-family="'Liberation Serif', serif" font-weight="bold" font-size="21.2px" textLength="10.33" lengthAdjust="spacingAndGlyphs" stroke="#000" stroke-width="0.3" >1</text>
<text x="1043.15" y="269.84" font-family="'Liberation Serif', serif" font-weight="bold" font-size="21.2px" textLength="25.84" lengthAdjust="spacingAndGlyphs" stroke="#000" stroke-width="0.3" >0.8</text>
<text x="1043.07" y="304.38" font-family="'Liberation Serif', serif" font-weight="bold" font-size="21.2px" textLength="25.84" lengthAdjust="spacingAndGlyphs" stroke="#000" stroke-width="0.3" >0.6</text>
<text x="1042.85" y="338.92" font-family="'Liberation Serif', serif" font-weight="bold" font-size="21.2px" textLength="25.84" lengthAdjust="spacingAndGlyphs" stroke="#000" stroke-width="0.3" >0.4</text>
<text x="1043.35" y="373.46" font-family="'Liberation Serif', serif" font-weight="bold" font-size="21.2px" textLength="25.84" lengthAdjust="spacingAndGlyphs" stroke="#000" stroke-width="0.3" >0.2</text>
<text x="1093.60" y="197.70" font-family="'Liberation Serif', serif" font-weight="bold" font-size="23.4px" textLength="188.64" lengthAdjust="spacingAndGlyphs" stroke="#000" stroke-width="0.3">Frequency f [GHz]</text>
<text transform="translate(1033.75 376.15) rotate(-90)" x="0" y="0" font-family="'Liberation Serif', serif" font-weight="bold" font-size="23.4px" textLength="138.95" lengthAdjust="spacingAndGlyphs" stroke="#000" stroke-width="0.3">Reflectance R</text>
<text x="1233.2" y="279.2" font-family="'Liberation Serif', serif" font-weight="bold" font-size="26px" stroke="#000" stroke-width="0.3">f<tspan font-size="18.8px" dy="10.6" dx="0.5">SP</tspan></text>
</g>
<g id="panelC">
<clipPath id="clipC"><rect x="1427.5" y="1.8" width="572.40" height="425.20"/></clipPath>
<g fill="#0000ff" clip-path="url(#clipC)">
<circle cx="1450.78" cy="357.60" r="6.3"/>
<circle cx="1476.44" cy="343.60" r="6.3"/>
<circle cx="1502.10" cy="328.40" r="6.3"/>
<circle cx="1527.76" cy="311.60" r="6.3"/>
<circle cx="1553.42" cy="294.00" r="6.3"/>
<circle cx="1579.08" cy="275.60" r="6.3"/>
<circle cx="1604.74" cy="257.20" r="6.3"/>
<circle cx="1630.40" cy="238.00" r="6.3"/>
<circle cx="1656.06" cy="219.40" r="6.3"/>
<circle cx="1681.72" cy="201.00" r="6.3"/>
<circle cx="1707.38" cy="182.40" r="6.3"/>
<circle cx="1733.04" cy="164.60" r="6.3"/>
<circle cx="1758.70" cy="147.60" r="6.3"/>
<circle cx="1784.36" cy="131.40" r="6.3"/>
<circle cx="1810.02" cy="116.00" r="6.3"/>
<circle cx="1835.68" cy="100.50" r="6.3"/>
<circle cx="1861.34" cy="87.60" r="6.3"/>
<circle cx="1887.00" cy="76.00" r="6.3"/>
<circle cx="1912.66" cy="64.60" r="6.3"/>
<circle cx="1938.32" cy="54.60" r="6.3"/>
<circle cx="1963.98" cy="46.00" r="6.3"/>
<circle cx="1989.64" cy="37.60" r="6.3"/>
</g>
<line x1="1427.40" y1="375.40" x2="1990.00" y2="5.00" stroke="#000" stroke-width="4.4" stroke-dasharray="30.6 12.2" clip-path="url(#clipC)"/>
<line x1="1630.40" y1="427.00" x2="1630.40" y2="406.00" stroke="#000" stroke-width="2.1" />
<line x1="1630.40" y1="1.80" x2="1630.40" y2="22.80" stroke="#000" stroke-width="2.1" />
<line x1="1887.00" y1="427.00" x2="1887.00" y2="406.00" stroke="#000" stroke-width="2.1" />
<line x1="1887.00" y1="1.80" x2="1887.00" y2="22.80" stroke="#000" stroke-width="2.1" />
<line x1="1451.04" y1="427.00" x2="1451.04" y2="416.50" stroke="#000" stroke-width="2.1" />
<line x1="1451.04" y1="1.80" x2="1451.04" y2="12.30" stroke="#000" stroke-width="2.1" />
<line x1="1496.23" y1="427.00" x2="1496.23" y2="416.50" stroke="#000" stroke-width="2.1" />
<line x1="1496.23" y1="1.80" x2="1496.23" y2="12.30" stroke="#000" stroke-width="2.1" />
<line x1="1528.29" y1="427.00" x2="1528.29" y2="416.50" stroke="#000" stroke-width="2.1" />
<line x1="1528.29" y1="1.80" x2="1528.29" y2="12.30" stroke="#000" stroke-width="2.1" />
<line x1="1553.16" y1="427.00" x2="1553.16" y2="416.50" stroke="#000" stroke-width="2.1" />
<line x1="1553.16" y1="1.80" x2="1553.16" y2="12.30" stroke="#000" stroke-width="2.1" />
<line x1="1573.47" y1="427.00" x2="1573.47" y2="416.50" stroke="#000" stroke-width="2.1" />
<line x1="1573.47" y1="1.80" x2="1573.47" y2="12.30" stroke="#000" stroke-width="2.1" />
<line x1="1590.65" y1="427.00" x2="1590.65" y2="416.50" stroke="#000" stroke-width="2.1" />
<line x1="1590.65" y1="1.80" x2="1590.65" y2="12.30" stroke="#000" stroke-width="2.1" />
<line x1="1605.53" y1="427.00" x2="1605.53" y2="416.50" stroke="#000" stroke-width="2.1" />
<line x1="1605.53" y1="1.80" x2="1605.53" y2="12.30" stroke="#000" stroke-width="2.1" />
<line x1="1618.66" y1="427.00" x2="1618.66" y2="416.50" stroke="#000" stroke-width="2.1" />
<line x1="1618.66" y1="1.80" x2="1618.66" y2="12.30" stroke="#000" stroke-width="2.1" />
<line x1="1707.64" y1="427.00" x2="1707.64" y2="416.50" stroke="#000" stroke-width="2.1" />
<line x1="1707.64" y1="1.80" x2="1707.64" y2="12.30" stroke="#000" stroke-width="2.1" />
<line x1="1752.83" y1="427.00" x2="1752.83" y2="416.50" stroke="#000" stroke-width="2.1" />
<line x1="1752.83" y1="1.80" x2="1752.83" y2="12.30" stroke="#000" stroke-width="2.1" />
<line x1="1784.89" y1="427.00" x2="1784.89" y2="416.50" stroke="#000" stroke-width="2.1" />
<line x1="1784.89" y1="1.80" x2="1784.89" y2="12.30" stroke="#000" stroke-width="2.1" />
<line x1="1809.76" y1="427.00" x2="1809.76" y2="416.50" stroke="#000" stroke-width="2.1" />
<line x1="1809.76" y1="1.80" x2="1809.76" y2="12.30" stroke="#000" stroke-width="2.1" />
<line x1="1830.07" y1="427.00" x2="1830.07" y2="416.50" stroke="#000" stroke-width="2.1" />
<line x1="1830.07" y1="1.80" x2="1830.07" y2="12.30" stroke="#000" stroke-width="2.1" />
<line x1="1847.25" y1="427.00" x2="1847.25" y2="416.50" stroke="#000" stroke-width="2.1" />
<line x1="1847.25" y1="1.80" x2="1847.25" y2="12.30" stroke="#000" stroke-width="2.1" />
<line x1="1862.13" y1="427.00" x2="1862.13" y2="416.50" stroke="#000" stroke-width="2.1" />
<line x1="1862.13" y1="1.80" x2="1862.13" y2="12.30" stroke="#000" stroke-width="2.1" />
<line x1="1875.26" y1="427.00" x2="1875.26" y2="416.50" stroke="#000" stroke-width="2.1" />
<line x1="1875.26" y1="1.80" x2="1875.26" y2="12.30" stroke="#000" stroke-width="2.1" />
<line x1="1964.24" y1="427.00" x2="1964.24" y2="416.50" stroke="#000" stroke-width="2.1" />
<line x1="1964.24" y1="1.80" x2="1964.24" y2="12.30" stroke="#000" stroke-width="2.1" />
<line x1="1427.50" y1="279.30" x2="1448.50" y2="279.30" stroke="#000" stroke-width="2.1" />
<line x1="1999.90" y1="279.30" x2="1978.90" y2="279.30" stroke="#000" stroke-width="2.1" />
<line x1="1427.50" y1="21.70" x2="1448.50" y2="21.70" stroke="#000" stroke-width="2.1" />
<line x1="1999.90" y1="21.70" x2="1978.90" y2="21.70" stroke="#000" stroke-width="2.1" />
<line x1="1427.50" y1="413.99" x2="1438.00" y2="413.99" stroke="#000" stroke-width="2.1" />
<line x1="1999.90" y1="413.99" x2="1989.40" y2="413.99" stroke="#000" stroke-width="2.1" />
<line x1="1427.50" y1="381.81" x2="1438.00" y2="381.81" stroke="#000" stroke-width="2.1" />
<line x1="1999.90" y1="381.81" x2="1989.40" y2="381.81" stroke="#000" stroke-width="2.1" />
<line x1="1427.50" y1="356.85" x2="1438.00" y2="356.85" stroke="#000" stroke-width="2.1" />
<line x1="1999.90" y1="356.85" x2="1989.40" y2="356.85" stroke="#000" stroke-width="2.1" />
<line x1="1427.50" y1="336.45" x2="1438.00" y2="336.45" stroke="#000" stroke-width="2.1" />
<line x1="1999.90" y1="336.45" x2="1989.40" y2="336.45" stroke="#000" stroke-width="2.1" />
<line x1="1427.50" y1="319.20" x2="1438.00" y2="319.20" stroke="#000" stroke-width="2.1" />
<line x1="1999.90" y1="319.20" x2="1989.40" y2="319.20" stroke="#000" stroke-width="2.1" />
<line x1="1427.50" y1="304.26" x2="1438.00" y2="304.26" stroke="#000" stroke-width="2.1" />
<line x1="1999.90" y1="304.26" x2="1989.40" y2="304.26" stroke="#000" stroke-width="2.1" />
<line x1="1427.50" y1="291.09" x2="1438.00" y2="291.09" stroke="#000" stroke-width="2.1" />
<line x1="1999.90" y1="291.09" x2="1989.40" y2="291.09" stroke="#000" stroke-width="2.1" />
<line x1="1427.50" y1="201.75" x2="1438.00" y2="201.75" stroke="#000" stroke-width="2.1" />
<line x1="1999.90" y1="201.75" x2="1989.40" y2="201.75" stroke="#000" stroke-width="2.1" />
<line x1="1427.50" y1="156.39" x2="1438.00" y2="156.39" stroke="#000" stroke-width="2.1" />
<line x1="1999.90" y1="156.39" x2="1989.40" y2="156.39" stroke="#000" stroke-width="2.1" />
<line x1="1427.50" y1="124.21" x2="1438.00" y2="124.21" stroke="#000" stroke-width="2.1" />
<line x1="1999.90" y1="124.21" x2="1989.40" y2="124.21" stroke="#000" stroke-width="2.1" />
<line x1="1427.50" y1="99.25" x2="1438.00" y2="99.25" stroke="#000" stroke-width="2.1" />
<line x1="1999.90" y1="99.25" x2="1989.40" y2="99.25" stroke="#000" stroke-width="2.1" />
<line x1="1427.50" y1="78.85" x2="1438.00" y2="78.85" stroke="#000" stroke-width="2.1" />
<line x1="1999.90" y1="78.85" x2="1989.40" y2="78.85" stroke="#000" stroke-width="2.1" />
<line x1="1427.50" y1="61.60" x2="1438.00" y2="61.60" stroke="#000" stroke-width="2.1" />
<line x1="1999.90" y1="61.60" x2="1989.40" y2="61.60" stroke="#000" stroke-width="2.1" />
<line x1="1427.50" y1="46.66" x2="1438.00" y2="46.66" stroke="#000" stroke-width="2.1" />
<line x1="1999.90" y1="46.66" x2="1989.40" y2="46.66" stroke="#000" stroke-width="2.1" />
<line x1="1427.50" y1="33.49" x2="1438.00" y2="33.49" stroke="#000" stroke-width="2.1" />
<line x1="1999.90" y1="33.49" x2="1989.40" y2="33.49" stroke="#000" stroke-width="2.1" />
<rect x="1427.50" y="1.80" width="572.40" height="425.20" fill="none" stroke="#000" stroke-width="2.3"/>
<text x="1612.24" y="461.80" font-family="'Liberation Serif', serif" font-weight="bold" font-size="27.3px" stroke="#000" stroke-width="0.3"><tspan textLength="26.62" lengthAdjust="spacingAndGlyphs">10</tspan><tspan font-size="19.4px" dy="-16.2">0</tspan></text>
<text x="1868.84" y="461.80" font-family="'Liberation Serif', serif" font-weight="bold" font-size="27.3px" stroke="#000" stroke-width="0.3"><tspan textLength="26.62" lengthAdjust="spacingAndGlyphs">10</tspan><tspan font-size="19.4px" dy="-16.2">1</tspan></text>
<text x="1385.92" y="36.10" font-family="'Liberation Serif', serif" font-weight="bold" font-size="27.3px" stroke="#000" stroke-width="0.3"><tspan textLength="26.62" lengthAdjust="spacingAndGlyphs">10</tspan><tspan font-size="19.4px" dy="-16.2">0</tspan></text>
<text x="1379.73" y="293.70" font-family="'Liberation Serif', serif" font-weight="bold" font-size="27.3px" stroke="#000" stroke-width="0.3"><tspan textLength="26.62" lengthAdjust="spacingAndGlyphs">10</tspan><tspan font-size="19.4px" dy="-16.2">-1</tspan></text>
<text transform="translate(1372.00 417.09) rotate(-90)" x="0" y="0" font-family="'Liberation Serif', serif" font-weight="bold" font-size="34.0px" textLength="396.80" lengthAdjust="spacingAndGlyphs" stroke="#000" stroke-width="0.3">Differential Reflectance <tspan font-weight="normal">Δ</tspan>R</text>
<text x="1453.02" y="497.80" font-family="'Liberation Serif', serif" font-weight="bold" font-size="34.0px" textLength="500.47" lengthAdjust="spacingAndGlyphs" stroke="#000" stroke-width="0.3">Magnetic Field Variation <tspan font-weight="normal">Δ</tspan>H [mT]</text>
<text font-family="'DejaVu Sans', 'Liberation Sans', sans-serif" fill="#000" font-size="57.7px"><tspan x="1472.97" y="97.45" textLength="28.13" lengthAdjust="spacingAndGlyphs">(</tspan><tspan x="1503.30" y="92.84" font-size="47.3px" stroke="#000" stroke-width="2.2" stroke-linejoin="miter">c</tspan><tspan x="1532.85" y="97.45" textLength="28.13" lengthAdjust="spacingAndGlyphs">)</tspan></text>
</g>
</svg>
</body></html>
